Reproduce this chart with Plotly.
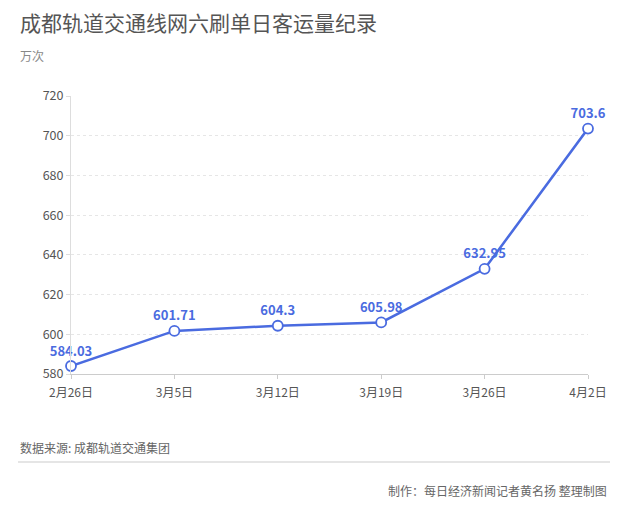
import plotly.graph_objects as go

dates = ["2月26日", "3月5日", "3月12日", "3月19日", "3月26日", "4月2日"]
passengers = [584.03, 601.71, 604.3, 605.98, 632.95, 703.6]
labels = ["584.03", "601.71", "604.3", "605.98", "632.95", "703.6"]

blue = "#4a6be0"
font = "Noto Sans CJK SC"

# plot area in figure pixels (page has an 8px body margin)
L, T, W, H = 63, 88, 517, 278


def px(fx):
    return (fx - L) / W


def py(fy):
    return 1 - (fy - T) / H


fig = go.Figure(go.Scatter(
    x=dates,
    y=passengers,
    mode="lines+markers+text",
    text=labels,
    textposition="top center",
    textfont=dict(color=blue, size=13, family=font, weight="bold"),
    line=dict(color=blue, width=2.5),
    marker=dict(size=10, color="white", line=dict(color=blue, width=1.8)),
    cliponaxis=False,
    hoverinfo="skip",
))

fig.update_layout(
    width=627, height=516,
    margin=dict(l=L, r=627 - L - W, t=T, b=516 - T - H),
    paper_bgcolor="white", plot_bgcolor="white",
    font=dict(family=font, color="#555555"),
    showlegend=False,
)

fig.update_xaxes(
    type="category",
    range=[0, 5],
    showline=True, linecolor="#cccccc", linewidth=1,
    ticks="outside", ticklen=4, tickcolor="#cccccc",
    tickfont=dict(size=12, color="#555555"),
    ticklabelstandoff=4,
    showgrid=False,
)
fig.update_yaxes(
    range=[580, 720],
    tickvals=[580, 600, 620, 640, 660, 680, 700, 720],
    showline=True, linecolor="#dddddd", linewidth=1,
    ticks="outside", ticklen=4, tickcolor="#dddddd",
    tickfont=dict(size=12.5, color="#555555"),
    showgrid=True, gridcolor="#e6e6e6", griddash="dot",
    zeroline=False,
)

fig.add_annotation(text="成都轨道交通线网六刷单日客运量纪录", xref="paper", yref="paper",
                   x=px(10), y=py(14), xanchor="left", yanchor="middle",
                   showarrow=False, font=dict(size=21, color="#555555", family=font))
fig.add_annotation(text="万次", xref="paper", yref="paper",
                   x=px(10), y=py(47), xanchor="left", yanchor="middle",
                   showarrow=False, font=dict(size=12, color="#888888", family=font))
fig.add_annotation(text="数据来源: 成都轨道交通集团", xref="paper", yref="paper",
                   x=px(10), y=py(439), xanchor="left", yanchor="middle",
                   showarrow=False, font=dict(size=12, color="#666666", family=font))
fig.add_annotation(text="制作：每日经济新闻记者黄名扬 整理制图", xref="paper", yref="paper",
                   x=px(601), y=py(482), xanchor="right", yanchor="middle",
                   showarrow=False, font=dict(size=12, color="#666666", family=font))
fig.add_shape(type="line", xref="paper", yref="paper",
              x0=px(10), x1=px(602), y0=py(454), y1=py(454),
              line=dict(color="#dddddd", width=1.5))

fig.write_html("out.html")
